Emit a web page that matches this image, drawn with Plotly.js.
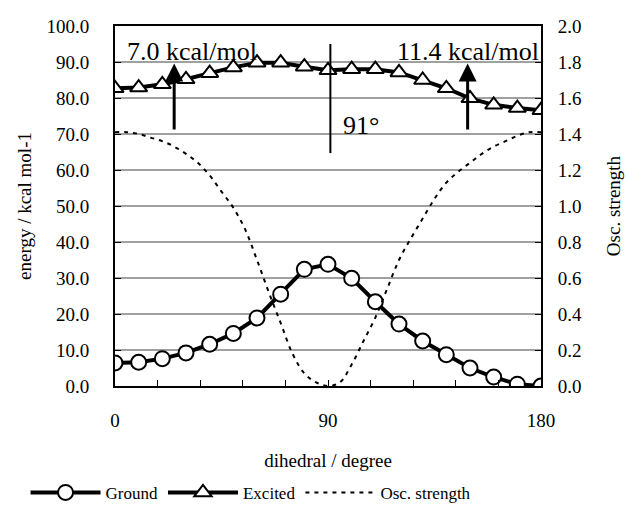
<!DOCTYPE html>
<html>
<head>
<meta charset="utf-8">
<script src="https://cdn.plot.ly/plotly-3.0.1.min.js"></script>
<style>html,body{margin:0;padding:0;background:#fff;}#chart{width:626px;height:505px;}</style>
</head>
<body>
<div id="chart"></div>
<script>
// Data
const dihedral = [0,10,20,30,40,50,60,70,80,90,100,110,120,130,140,150,160,170,180];
const groundEnergy = [6.4,6.6,7.6,9.2,11.6,14.6,18.9,25.5,32.4,33.8,29.9,23.4,17.2,12.5,8.7,5.0,2.5,0.5,0.0];
const excitedEnergy = [82.7,82.9,83.8,85.2,86.9,88.5,89.8,89.8,88.7,87.7,88.0,88.0,87.1,85.0,82.7,79.9,78.1,77.2,76.6];
const oscDihedral = [0,5,10,15,20,25,30,35,40,45,50,55,60,65,70,75,80,85,90,95,100,105,110,115,120,125,130,135,140,145,150,155,160,165,170,175,180];
const oscStrength = [1.41,1.41,1.40,1.38,1.36,1.33,1.29,1.24,1.17,1.08,0.99,0.87,0.70,0.52,0.35,0.18,0.07,0.02,0.0,0.02,0.12,0.25,0.38,0.54,0.70,0.82,0.93,1.04,1.13,1.19,1.24,1.29,1.33,1.36,1.39,1.41,1.41];
const xTickVals = [0,18,36,54,72,90,108,126,144,162,180];
const xTickText = ['0','','','','','90','','','','','180'];
const annotTexts = ['7.0 kcal/mol','11.4 kcal/mol','91°'];

const FONT = 'Times New Roman, Liberation Serif, serif';

const traces = [
  {x: dihedral, y: groundEnergy, name: 'Ground', type: 'scatter', mode: 'lines+markers',
   line: {color: '#000', width: 4},
   marker: {symbol: 'circle', size: 15, color: '#fff', line: {color: '#000', width: 2}}},
  {x: dihedral, y: excitedEnergy, name: 'Excited', type: 'scatter', mode: 'lines+markers',
   line: {color: '#000', width: 4},
   marker: {symbol: 'triangle-up', size: 15, color: '#fff', line: {color: '#000', width: 2}}},
  {x: oscDihedral, y: oscStrength, name: 'Osc. strength', type: 'scatter', mode: 'lines',
   yaxis: 'y2', line: {color: '#000', width: 2, dash: '4px,5px', shape: 'spline'}}
];

const layout = {
  width: 626, height: 505,
  margin: {l: 115, r: 85, t: 26, b: 119, autoexpand: false},
  paper_bgcolor: '#fff', plot_bgcolor: '#fff',
  font: {family: FONT, size: 19, color: '#000'},
  showlegend: true,
  legend: {orientation: 'h', x: -0.21, xanchor: 'left', y: -0.297, yanchor: 'middle',
           font: {family: FONT, size: 17, color: '#000'}, itemwidth: 70, tracegroupgap: 0,
           bgcolor: 'rgba(0,0,0,0)'},
  xaxis: {range: [0, 180], tickmode: 'array', tickvals: xTickVals, ticktext: xTickText,
          ticks: 'inside', ticklen: 6, tickwidth: 1, tickcolor: '#000',
          showline: true, linecolor: '#000', linewidth: 2, mirror: true,
          showgrid: false, zeroline: false, ticklabelstandoff: 16,
          tickfont: {family: FONT, size: 19},
          title: {text: 'dihedral / degree', font: {family: FONT, size: 19}, standoff: 24}},
  yaxis: {range: [0, 100], dtick: 10, tickformat: '.1f',
          ticks: 'inside', ticklen: 6, tickcolor: '#000',
          showline: true, linecolor: '#000', linewidth: 2,
          showgrid: true, gridcolor: '#a0a0a0', gridwidth: 2, zeroline: false,
          ticklabelstandoff: 20, tickfont: {family: FONT, size: 19},
          title: {text: 'energy / kcal mol-1', font: {family: FONT, size: 19}, standoff: 10}},
  yaxis2: {range: [0, 2], dtick: 0.2, tickformat: '.1f', overlaying: 'y', side: 'right',
           ticks: 'inside', ticklen: 6, tickcolor: '#000',
           showline: true, linecolor: '#000', linewidth: 2,
           showgrid: false, zeroline: false, ticklabelstandoff: 11,
           tickfont: {family: FONT, size: 19},
           title: {text: 'Osc. strength', font: {family: FONT, size: 19}, standoff: 26}},
  shapes: [
    {type: 'line', xref: 'x', yref: 'y', x0: 91, x1: 91, y0: 95.0, y1: 64.7,
     line: {color: '#000', width: 2}}
  ],
  annotations: [
    {xref: 'x', yref: 'y', x: 32.5, y: 92.8, text: annotTexts[0], showarrow: false,
     font: {family: FONT, size: 26, color: '#000'}},
    {xref: 'x', yref: 'y', x: 149, y: 92.8, text: annotTexts[1], showarrow: false,
     font: {family: FONT, size: 26, color: '#000'}},
    {xref: 'x', yref: 'y', x: 104, y: 72.4, text: annotTexts[2], showarrow: false,
     font: {family: FONT, size: 26, color: '#000'}},
    {xref: 'x', yref: 'y', axref: 'x', ayref: 'y', x: 25, y: 89.6, ax: 25, ay: 70.8,
     text: '', showarrow: true, arrowhead: 2, arrowwidth: 3, arrowsize: 1.2, arrowcolor: '#000'},
    {xref: 'x', yref: 'y', axref: 'x', ayref: 'y', x: 149, y: 89.6, ax: 149, ay: 70.8,
     text: '', showarrow: true, arrowhead: 2, arrowwidth: 3, arrowsize: 1.2, arrowcolor: '#000'}
  ]
};

Plotly.newPlot('chart', traces, layout, {displayModeBar: false, staticPlot: true});
</script>
</body>
</html>
